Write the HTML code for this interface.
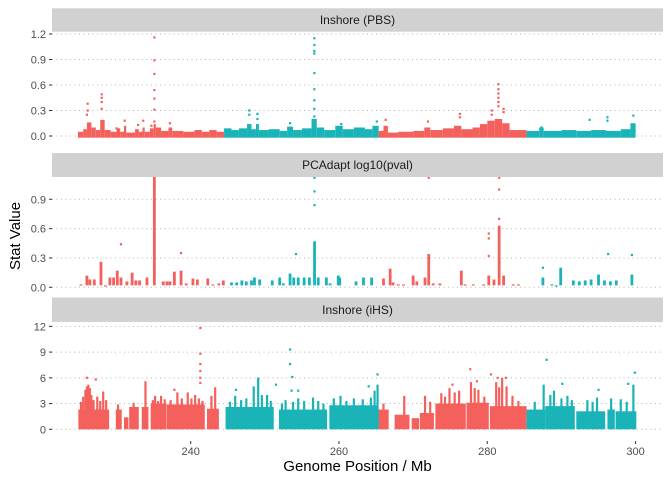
<!DOCTYPE html>
<html><head><meta charset="utf-8"><style>
html,body{margin:0;padding:0;background:#fff;}
svg{display:block;font-family:"Liberation Sans",Arial,sans-serif;}
</style></head><body>
<svg id="chart" width="672" height="480" xmlns="http://www.w3.org/2000/svg">
<script>
// ---------- data ----------
const xTicks = [240, 260, 280, 300];
const chromSegs = [[224.8,244.5,0],[244.5,265.35,1],[265.35,285.3,0],[285.3,300.5,1]];
// PBS: background band [start, end, top]
const pbsBand = [[224.8,225.5,0.05],[225.5,226,0.08],[226,226.6,0.16],[226.6,227.2,0.1],[227.2,227.8,0.07],[227.8,228.4,0.19],[228.4,229.2,0.07],[229.2,230,0.05],[230,230.5,0.09],[230.5,231,0.05],[231,231.3,0.12],[231.3,232.5,0.04],[232.5,233,0.08],[233,233.5,0.05],[233.5,233.8,0.1],[233.8,234.5,0.05],[234.5,235,0.09],[235,235.3,0.14],[235.3,236,0.1],[236,237,0.06],[237,237.5,0.1],[237.5,239,0.06],[239,240.5,0.05],[240.5,241.5,0.07],[241.5,242.5,0.05],[242.5,243.5,0.07],[243.5,244.5,0.05],[244.5,245.5,0.09],[245.5,246.5,0.07],[246.5,247.6,0.09],[247.6,248.2,0.14],[248.2,248.8,0.08],[248.8,249.2,0.14],[249.2,250.5,0.07],[250.5,252,0.08],[252,253,0.06],[253,253.8,0.11],[253.8,255,0.07],[255,256.3,0.09],[256.3,257,0.2],[257,258,0.1],[258,259.5,0.07],[259.5,260.5,0.12],[260.5,262,0.08],[262,263.5,0.1],[263.5,264.5,0.08],[264.5,265.35,0.12],[265.35,266,0.06],[266,266.6,0.12],[266.6,268,0.04],[268,270,0.05],[270,271.5,0.06],[271.5,272.3,0.1],[272.3,274,0.07],[274,275.5,0.09],[275.5,276.5,0.12],[276.5,278,0.08],[278,279,0.1],[279,280,0.14],[280,281,0.18],[281,282,0.2],[282,283,0.15],[283,285.3,0.07],[285.3,287,0.06],[287,287.6,0.1],[287.6,290,0.06],[290,292,0.07],[292,294,0.06],[294,296,0.07],[296,298,0.06],[298,299.3,0.08],[299.3,300,0.15]];
const pbsPos = [226.1,226.1,226.0,228.0,228.0,228.0,228.0,230.0,231.1,232.9,233.6,234.7,235.1,235.1,235.1,235.1,235.1,235.1,235.1,237.2,247.9,247.9,249.0,249.0,253.4,256.67,256.67,256.67,256.67,256.67,256.67,256.67,256.67,256.67,260.3,265.1,266.3,272.0,276.3,276.3,280.6,280.6,281.5,281.5,281.5,281.5,281.5,281.5,282.2,282.2,287.3,293.8,296.2,296.2,299.7];
const pbsVal = [0.38,0.3,0.25,0.49,0.45,0.4,0.32,0.09,0.18,0.13,0.18,0.12,1.16,0.89,0.73,0.54,0.44,0.31,0.17,0.15,0.3,0.25,0.26,0.2,0.15,1.15,1.07,1.0,0.97,0.74,0.55,0.42,0.32,0.23,0.14,0.17,0.19,0.17,0.26,0.22,0.3,0.25,0.61,0.55,0.5,0.45,0.4,0.35,0.32,0.28,0.1,0.19,0.22,0.18,0.24];
// PCAdapt: columns [pos, top]
const pcaCols = [[225.2,0.03],[226.0,0.12],[226.4,0.08],[227.0,0.08],[227.9,0.26],[228.5,0.02],[229.1,0.1],[229.6,0.1],[230.1,0.17],[230.6,0.1],[231.4,0.06],[232.1,0.15],[232.6,0.07],[233.1,0.07],[234.1,0.1],[235.1,1.16],[236.3,0.06],[236.8,0.06],[237.2,0.06],[237.8,0.16],[238.7,0.17],[239.4,0.04],[240.3,0.09],[240.9,0.08],[242.3,0.09],[243.0,0.03],[243.8,0.04],[244.4,0.07],[245.5,0.05],[246.2,0.05],[246.9,0.07],[247.5,0.06],[248.2,0.07],[248.6,0.1],[249.3,0.08],[251.0,0.07],[252.0,0.1],[252.5,0.04],[253.4,0.14],[253.9,0.1],[254.5,0.1],[255.3,0.1],[256.0,0.1],[256.7,0.47],[257.2,0.1],[258.3,0.1],[258.8,0.04],[259.9,0.12],[260.1,0.1],[262.3,0.06],[263.3,0.1],[264.4,0.1],[266.0,0.09],[266.9,0.19],[267.3,0.05],[268.0,0.03],[268.7,0.03],[270.0,0.12],[270.5,0.06],[271.6,0.1],[272.1,0.34],[272.7,0.04],[273.6,0.04],[276.5,0.17],[277.0,0.03],[278.1,0.03],[279.5,0.03],[280.2,0.12],[280.9,0.08],[281.6,0.63],[282.2,0.12],[283.5,0.03],[284.2,0.03],[287.5,0.1],[288.7,0.03],[289.3,0.02],[289.9,0.2],[291.6,0.07],[292.4,0.06],[293.2,0.07],[294.0,0.08],[295.0,0.13],[295.8,0.07],[296.6,0.06],[297.4,0.07],[299.5,0.13]];
const pcaDotPos = [230.6,238.7,254.2,256.7,256.7,256.7,272.1,280.2,280.2,280.2,281.6,281.6,281.6,287.5,296.3,299.5];
const pcaDotVal = [0.44,0.35,0.34,0.84,0.98,1.12,1.12,0.32,0.5,0.55,0.7,1.0,1.12,0.2,0.34,0.33];
// iHS: segments [start, end, top]
const ihsSegs = [[224.85,229.0,2.3],[229.9,230.7,2.3],[231.0,231.6,1.4],[231.7,233.0,2.6],[233.4,234.3,2.6],[234.6,236.75,3.0],[236.8,241.9,2.9],[242.2,243.8,2.4],[244.7,251.2,2.6],[251.9,258.4,2.3],[258.7,265.3,2.8],[265.3,266.7,2.3],[267.5,269.5,1.7],[269.8,270.8,1.3],[270.9,272.8,1.9],[273.0,277.1,3.0],[277.2,280.2,3.1],[280.35,285.3,2.7],[285.3,287.8,2.3],[287.8,291.8,2.7],[292.0,295.9,2.1],[296.2,297.2,2.3],[297.3,300.1,2.1]];
const ihsPeakPos = [225.2,225.5,225.8,226.0,226.2,226.4,226.6,226.9,227.4,227.8,228.2,228.6,230.2,232.3,233.9,234.9,235.2,235.6,236.0,236.5,237.3,238.2,238.8,239.6,240.1,240.6,241.1,241.6,242.8,243.3,245.3,246.0,246.8,247.5,248.5,249.1,249.6,250.3,250.8,252.3,252.8,253.8,254.5,255.3,256.5,257.2,257.9,259.3,260.2,261.0,262.0,263.2,264.3,264.8,265.2,266.0,268.8,271.6,272.3,273.8,274.3,274.9,275.6,276.2,277.8,278.3,278.8,279.6,281.2,281.6,282.0,282.6,283.4,284.2,286.4,287.6,288.5,289.0,290.0,290.8,291.4,293.5,294.2,294.8,296.7,298.0,298.8,299.7];
const ihsPeakVal = [3.2,3.8,4.6,5.0,5.2,4.8,4.0,3.4,3.8,3.3,4.4,3.4,2.9,3.1,5.6,3.4,3.9,3.3,3.9,3.5,3.4,4.3,3.6,4.3,3.6,4.0,3.6,3.3,3.9,4.9,3.2,3.9,3.4,3.6,5.0,6.0,4.0,4.0,3.3,3.0,3.4,3.2,3.6,3.3,3.7,3.3,3.0,3.6,3.9,3.3,3.6,3.5,3.7,4.5,5.2,3.0,3.9,3.9,3.2,4.2,3.8,4.8,4.3,4.5,5.5,4.8,4.6,3.8,5.5,4.9,6.0,5.0,3.9,3.3,3.2,5.2,4.0,4.5,3.6,3.9,3.4,3.4,3.2,3.7,3.6,3.5,3.2,5.2];
const ihsDotPos = [226.0,227.2,241.3,241.3,241.3,241.3,241.3,241.3,237.8,246.1,249.1,251.5,253.4,253.4,253.7,253.6,254.5,264.0,265.2,275.3,277.7,278.6,280.5,281.4,282.5,288.0,290.1,295.0,299.0,299.9];
const ihsDotVal = [6.0,5.8,11.8,8.8,7.6,6.8,6.0,5.4,4.6,4.6,5.9,5.2,9.3,7.6,6.1,4.5,4.5,5.0,6.4,5.2,7.0,5.6,6.4,6.0,6.0,8.1,5.3,4.6,5.3,6.6];

// ---------- layout ----------
const NS = "http://www.w3.org/2000/svg";
const svg = document.getElementById('chart');
const PL = 52, PR = 663;
const COLORS = ['#F4615D', '#1AB4B8'];
function xs(m){ return 190.7 + (m - 240) * 7.415; }
const panels = [
  {name:'pbs', label:'Inshore (PBS)', strip:[8.3,31.7], top:32, bot:147, y0:136, k:85, ticks:[0,0.3,0.6,0.9,1.2], fmt:v=>v.toFixed(1)},
  {name:'pcadapt', label:'PCAdapt log10(pval)', strip:[153,177], top:177, bot:292, y0:287.3, k:97.8, ticks:[0,0.3,0.6,0.9], fmt:v=>v.toFixed(1)},
  {name:'ihs', label:'Inshore (iHS)', strip:[297.5,322], top:322, bot:441, y0:429.3, k:8.58, ticks:[0,3,6,9,12], fmt:v=>String(v)}
];
function mk(tag, attrs, parent){ const e = document.createElementNS(NS, tag); for (const k in attrs) e.setAttribute(k, attrs[k]); (parent||svg).appendChild(e); return e; }
function colorAt(m){ for (const s of chromSegs) if (m >= s[0] && m < s[1]) return COLORS[s[2]]; return COLORS[1]; }

panels.forEach((p, i) => {
  const ys = v => p.y0 - v * p.k;
  const strip = mk('rect', {x:PL, y:p.strip[0], width:PR-PL, height:p.strip[1]-p.strip[0], fill:'#d1d1d1'});
  
  
  const st = mk('text', {x:(PL+PR)/2, y:(p.strip[0]+p.strip[1])/2+4, 'text-anchor':'middle', 'font-size':'12', fill:'#1a1a1a'});
  st.textContent = p.label;
  
  
  const clipId = 'clip' + i;
  const cp = mk('clipPath', {id:clipId}); mk('rect', {x:PL, y:p.top, width:PR-PL, height:p.bot-p.top}, cp);
  p.ticks.forEach(t => {
    const y = ys(t);
    const gl = mk('line', {x1:PL, x2:PR, y1:y, y2:y, stroke:'#b3b3b3', 'stroke-width':'1', 'stroke-dasharray':'1 3.5'});
    
    
    mk('line', {x1:PL-3, x2:PL, y1:y, y2:y, stroke:'#333', 'stroke-width':'1'});
    const tl = mk('text', {x:PL-6, y:y+4, 'text-anchor':'end', 'font-size':'11', fill:'#4d4d4d'});
    tl.textContent = p.fmt(t);
    
    
  });
  const g = mk('g', {'clip-path':'url(#'+clipId+')'});
  
  
  const col = (m, lo, hi, w) => {
    const r = mk('rect', {x:xs(m)-w/2, y:ys(hi), width:w, height:Math.max(1.2, ys(lo)-ys(hi)), fill:colorAt(m)}, g);
    
    
  };
  const dot = (m, v) => {
    const c = mk('rect', {x:xs(m)-1.1, y:ys(v)-1.1, width:2.2, height:2.2, fill:colorAt(m)}, g);
    
    
  };
  if (p.name === 'pbs') {
    pbsBand.forEach(b => {
      const r = mk('rect', {x:xs(b[0]), y:ys(b[2]), width:xs(b[1])-xs(b[0]), height:ys(-0.02)-ys(b[2]), fill:colorAt((b[0]+b[1])/2)}, g);
      
      
    });
    pbsPos.forEach((m, j) => dot(m, pbsVal[j]));
  } else if (p.name === 'pcadapt') {
    pcaCols.forEach(c => col(c[0], 0.02, c[1], 2.8));
    pcaDotPos.forEach((m, j) => dot(m, pcaDotVal[j]));
  } else {
    ihsSegs.forEach(s => {
      const r = mk('rect', {x:xs(s[0]), y:ys(s[2]), width:xs(s[1])-xs(s[0]), height:ys(0)-ys(s[2]), fill:colorAt((s[0]+s[1])/2)}, g);
      
      
    });
    ihsPeakPos.forEach((m, j) => col(m, 0, ihsPeakVal[j], 2.2));
    ihsDotPos.forEach((m, j) => dot(m, ihsDotVal[j]));
  }
});
xTicks.forEach(t => {
  const x = xs(t);
  mk('line', {x1:x, x2:x, y1:441, y2:444, stroke:'#333', 'stroke-width':'1'});
  const tl = mk('text', {x:x, y:455, 'text-anchor':'middle', 'font-size':'11', fill:'#4d4d4d'});
  tl.textContent = t;
  
  
});
const xt = mk('text', {x:(PL+PR)/2, y:471, 'text-anchor':'middle', 'font-size':'15', fill:'#000'});
xt.textContent = 'Genome Position / Mb';


const yt = mk('text', {x:0, y:0, 'text-anchor':'middle', 'font-size':'15', fill:'#000', transform:'translate(20,236) rotate(-90)'});
yt.textContent = 'Stat Value';


</script>
</svg>
</body></html>
